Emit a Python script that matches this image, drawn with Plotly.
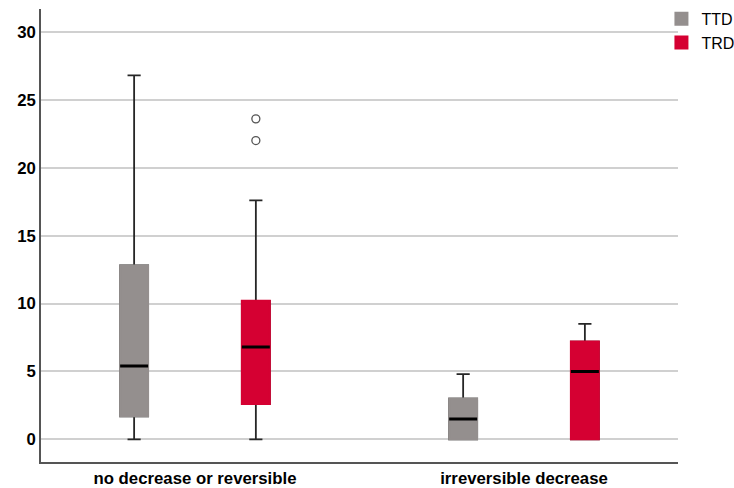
import plotly.graph_objects as go

# ---------------- data ----------------
categories = ["no decrease or reversible", "irreversible decrease"]
series_names = ["TTD", "TRD"]

ttd_min = [0.0, 0.0]
ttd_q1 = [1.7, 0.0]
ttd_median = [5.4, 1.5]
ttd_q3 = [12.8, 3.0]
ttd_max = [26.8, 4.8]

trd_min = [0.0, 0.0]
trd_q1 = [2.6, 0.0]
trd_median = [6.8, 5.0]
trd_q3 = [10.2, 7.2]
trd_max = [17.6, 8.5]

trd_outlier_category = [0, 0]
trd_outlier_values = [22.0, 23.6]

y_ticks = [0, 5, 10, 15, 20, 25, 30]

# ---------------- style ----------------
colors = {"TTD": "#948F8E", "TRD": "#D50032"}
offsets = {"TTD": -0.185, "TRD": 0.185}
BOX_W = 0.085
FONT = "Liberation Sans, Arial, sans-serif"

stats = {
    "TTD": dict(mn=ttd_min, q1=ttd_q1, med=ttd_median, q3=ttd_q3, mx=ttd_max),
    "TRD": dict(mn=trd_min, q1=trd_q1, med=trd_median, q3=trd_q3, mx=trd_max),
}

fig = go.Figure()


def positions(name, idx):
    return [i + offsets[name] for i in idx]


idx = list(range(len(categories)))

# whiskers layer (black)
for name in series_names:
    s = stats[name]
    fig.add_trace(go.Box(
        x=positions(name, idx), q1=s["q1"], median=s["med"], q3=s["q3"],
        lowerfence=s["mn"], upperfence=s["mx"], width=BOX_W,
        fillcolor="rgba(0,0,0,0)", line=dict(color="#262626", width=1.8),
        whiskerwidth=0.47, boxpoints=False, showlegend=False,
        hoverinfo="skip", name=name,
    ))

# filled boxes
for name in series_names:
    s = stats[name]
    fig.add_trace(go.Box(
        x=positions(name, idx), q1=s["q1"], median=s["med"], q3=s["q3"],
        lowerfence=s["q1"], upperfence=s["q3"], width=BOX_W,
        fillcolor=colors[name], line=dict(color=colors[name], width=2),
        whiskerwidth=0, boxpoints=False, showlegend=True, name=name,
    ))

# median lines (black)
for name in series_names:
    s = stats[name]
    fig.add_trace(go.Box(
        x=positions(name, idx), q1=s["med"], median=s["med"], q3=s["med"],
        lowerfence=s["med"], upperfence=s["med"], width=BOX_W,
        fillcolor="rgba(0,0,0,0)", line=dict(color="#000000", width=3),
        whiskerwidth=0, boxpoints=False, showlegend=False,
        hoverinfo="skip", name=name,
    ))

# outliers
fig.add_trace(go.Scatter(
    x=positions("TRD", trd_outlier_category), y=trd_outlier_values,
    mode="markers", showlegend=False, name="TRD outliers",
    marker=dict(symbol="circle", size=8, color="white",
                line=dict(color="#555555", width=1.3)),
))

fig.update_layout(
    width=734, height=488,
    margin=dict(l=41, r=56, t=9, b=26, autoexpand=False),
    paper_bgcolor="white", plot_bgcolor="white",
    font=dict(family=FONT, color="#000000"),
    showlegend=True,
    legend=dict(x=0.974, xanchor="left", y=1.016, yanchor="top",
                font=dict(family=FONT, size=16, color="#000000"),
                bgcolor="rgba(0,0,0,0)", tracegroupgap=0,
                itemsizing="constant"),
    xaxis=dict(range=[-0.468, 1.468], tickmode="array", tickvals=idx,
               ticktext=categories, showgrid=False, zeroline=False,
               showline=True, linecolor="#555555", linewidth=1.5,
               automargin=False,
               ticks="", tickfont=dict(family=FONT, size=16.75, weight="bold")),
    yaxis=dict(range=[-1.67, 31.69], tickmode="array", tickvals=y_ticks,
               showgrid=True, gridcolor="#D0D0D0", gridwidth=1.5,
               zeroline=False, showline=True, linecolor="#555555", linewidth=1.5,
               automargin=False,
               ticks="", tickfont=dict(family=FONT, size=16.75, weight="bold")),
)

fig.write_html("out.html")
